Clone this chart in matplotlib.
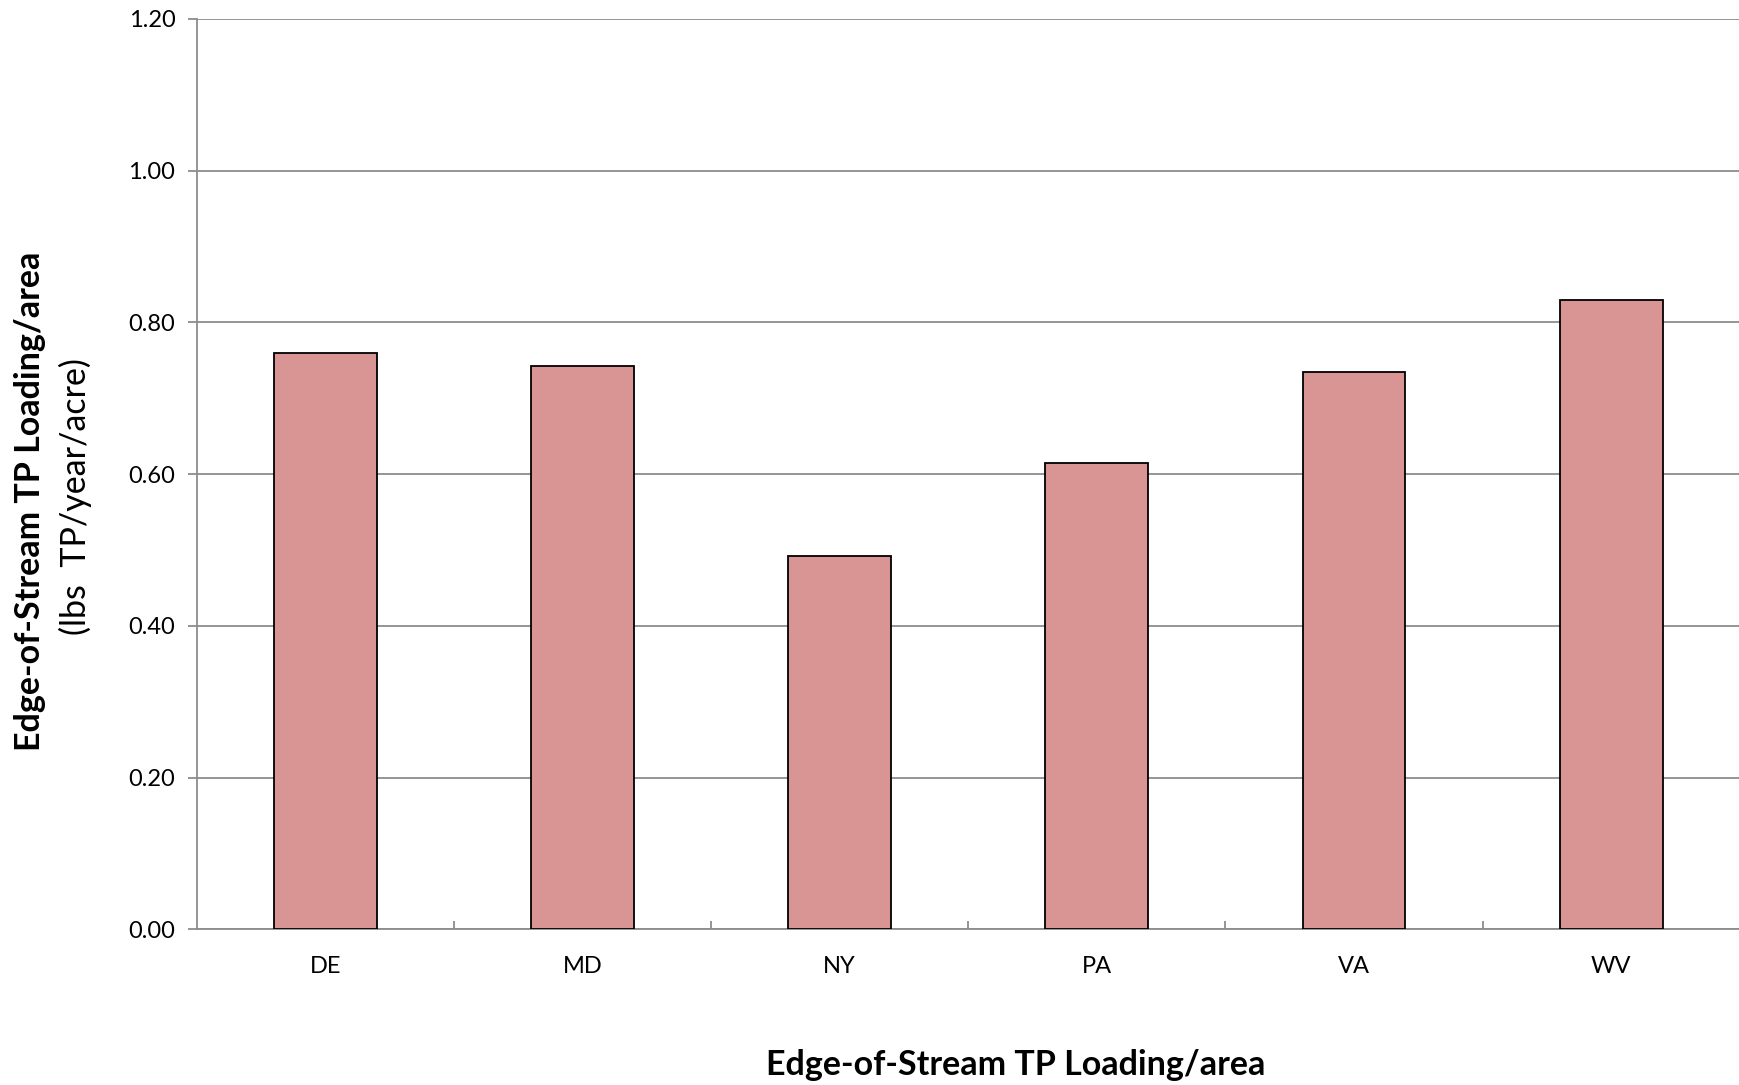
import matplotlib
matplotlib.use("Agg")
import matplotlib.pyplot as plt
import numpy as np

states = ["DE", "MD", "NY", "PA", "VA", "WV"]
loading = [0.760, 0.743, 0.492, 0.615, 0.735, 0.830]
yticks = [0.0, 0.2, 0.4, 0.6, 0.8, 1.0, 1.2]
ylabels = [f"{v:.2f}" for v in yticks]
title_main = "Edge-of-Stream TP Loading/area"
title_units = "(lbs  TP/year/acre)"

plt.rcParams['font.family'] = ['Lato', 'DejaVu Sans']

fig = plt.figure(figsize=(17.39, 10.85), dpi=100)
ax = fig.add_axes([0.1132, 0.1434, 0.8872, 0.8392])

x = np.arange(len(states))
ax.bar(x, loading, width=0.4, color='#D99594', edgecolor='black', linewidth=1.3, zorder=3)

ax.set_xlim(-0.5, len(states) - 0.5)
ax.set_ylim(0, 1.2)
ax.set_yticks(yticks)
ax.set_yticklabels(ylabels)
ax.yaxis.grid(True, color='#8c8c8c', linewidth=1.3)
ax.set_axisbelow(True)

for s in ['top', 'right']:
    ax.spines[s].set_visible(False)
for s in ['left', 'bottom']:
    ax.spines[s].set_color('#8c8c8c')
    ax.spines[s].set_linewidth(1.3)

ax.tick_params(axis='y', direction='out', length=6.5, width=1.3, color='#8c8c8c',
               labelsize=17, pad=9)
ax.set_xticks(x)
ax.set_xticklabels(states)
ax.tick_params(axis='x', which='major', length=0, labelsize=17, pad=19.5)
ax.set_xticks(np.arange(0.5, len(states) - 1, 1.0), minor=True)
ax.tick_params(axis='x', which='minor', direction='in', length=6, width=1.3, color='#8c8c8c')

fig.text(0.0173, 0.538, title_main, rotation=90, ha='center', va='center',
         fontsize=24.5, fontweight='bold')
fig.text(0.0431, 0.5424, title_units, rotation=90, ha='center', va='center',
         fontsize=24.5)
fig.text(0.5843, 0.0185, title_main, ha='center', va='center',
         fontsize=24.5, fontweight='bold')

fig.savefig("out.png", dpi=100)
